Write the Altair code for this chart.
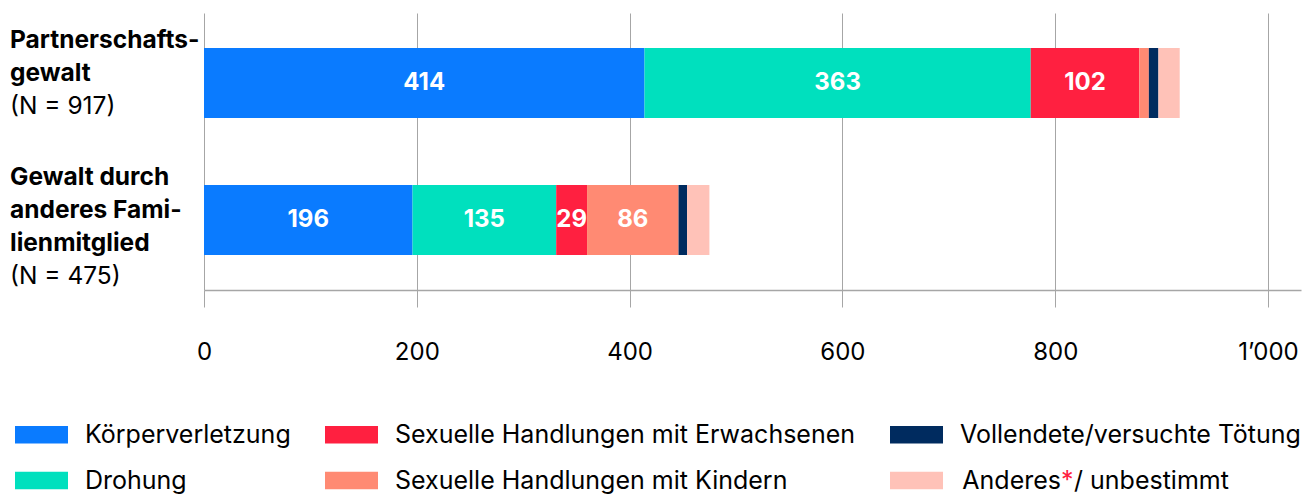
import altair as alt
import pandas as pd

categories = ["Partnerschaftsgewalt", "Gewalt durch anderes Familienmitglied"]
bold_labels = ["Partnerschafts-\ngewalt", "Gewalt durch\nanderes Fami-\nlienmitglied"]
n_labels = ["(N = 917)", "(N = 475)"]

types = [
    "Körperverletzung",
    "Drohung",
    "Sexuelle Handlungen mit Erwachsenen",
    "Sexuelle Handlungen mit Kindern",
    "Vollendete/versuchte Tötung",
    "Anderes*/ unbestimmt",
]
# the last legend label is drawn in three parts so that its asterisk can be red
other_parts = ["Anderes", "*", "/ unbestimmt"]
colors = ["#0A7BFF", "#00E0BE", "#FF2040", "#FF8A73", "#002B5F", "#FFC2B8"]
partner = [414, 363, 102, 9, 9, 20]
familie = [196, 135, 29, 86, 8, 21]
x_ticks = [0, 200, 400, 600, 800, 1000]
label_min = 25

FONT = "Inter"
LINE_H = 33
FIRST_DY = -35

rows = []
for cat, vals in zip(categories, [partner, familie]):
    for i, (t, v) in enumerate(zip(types, vals)):
        rows.append({"cat": cat, "type": t, "value": v, "idx": i})
df = pd.DataFrame(rows)

lab_df = pd.DataFrame({"cat": categories, "bold": bold_labels, "reg": n_labels})

y_enc = alt.Y(
    "cat:N",
    sort=categories,
    axis=None,
    scale=alt.Scale(paddingInner=0.489, paddingOuter=0.2555),
)

base = alt.Chart(df).transform_stack(
    stack="value", groupby=["cat"], as_=["start", "end"], sort=[alt.SortField("idx")]
)

LEG_Y = 395
ROW_PAD = 6
ROW2_CENTER = LEG_Y + 79.5 + ROW_PAD - 13  # relative to plot top

bars = base.mark_bar().encode(
    x=alt.X(
        "start:Q",
        scale=alt.Scale(domain=[0, 1031], nice=False),
        axis=alt.Axis(
            values=x_ticks,
            title=None,
            grid=True,
            gridColor="#a6a6a6",
            gridWidth=1,
            domainColor="#a6a6a6",
            domainWidth=1.5,
            tickColor="#a6a6a6",
            tickWidth=1,
            tickSize=17,
            labelPadding=33,
            labelFlush=False,
            labelFont=FONT,
            labelFontSize=24,
            labelColor="#000000",
            labelExpr="replace(format(datum.value, ','), ',', '’')",
        ),
    ),
    x2="end:Q",
    y=y_enc,
    color=alt.Color(
        "type:N",
        scale=alt.Scale(domain=types, range=colors),
        legend=alt.Legend(
            title=None,
            orient="none",
            legendX=-189,
            legendY=LEG_Y,
            columns=3,
            columnPadding=34,
            rowPadding=ROW_PAD,
            gridAlign="each",
            symbolType="M-1,-0.33H1V0.33H-1Z",
            symbolSize=2809,
            symbolStrokeWidth=0,
            symbolOpacity=1,
            labelOffset=17,
            labelFont=FONT,
            labelFontSize=25,
            labelColor="#000000",
            labelLimit=600,
            labelExpr=f"datum.label == '{types[5]}' ? '' : datum.label",
        ),
    ),
)

text = (
    base.transform_filter(f"datum.value >= {label_min}")
    .transform_calculate(mid="(datum.start + datum.end) / 2")
    .mark_text(color="white", font=FONT, fontSize=24, fontWeight="bold", baseline="middle")
    .encode(x="mid:Q", y=y_enc, text="value:Q")
)

ylab_bold = (
    alt.Chart(lab_df)
    .mark_text(
        align="left", baseline="alphabetic", font=FONT, fontSize=24.5, fontWeight="bold",
        lineBreak="\n", lineHeight=LINE_H, dy=FIRST_DY, color="#000000",
    )
    .encode(x=alt.value(-194), y=y_enc, text="bold:N")
)

n_layers = []
for cat, b in zip(categories, bold_labels):
    nb = b.count("\n") + 1
    n_layers.append(
        alt.Chart(lab_df)
        .transform_filter(alt.datum.cat == cat)
        .mark_text(
            align="left", baseline="alphabetic", font=FONT, fontSize=24.5,
            dy=FIRST_DY + LINE_H * nb, color="#000000",
        )
        .encode(x=alt.value(-194), y=y_enc, text="reg:N")
    )

STAR_X = 857
part_df = pd.DataFrame({"t": other_parts})
other_layers = [
    alt.Chart(part_df).transform_filter(alt.datum.t == other_parts[0])
    .mark_text(align="right", baseline="middle", font=FONT, fontSize=25, color="#000000")
    .encode(x=alt.value(STAR_X), y=alt.value(ROW2_CENTER), text="t:N"),
    alt.Chart(part_df).transform_filter(alt.datum.t == other_parts[1])
    .mark_text(align="left", baseline="middle", font=FONT, fontSize=25, color="#FF2040")
    .encode(x=alt.value(STAR_X), y=alt.value(ROW2_CENTER), text="t:N"),
    alt.Chart(part_df).transform_filter(alt.datum.t == other_parts[2])
    .mark_text(align="left", baseline="middle", font=FONT, fontSize=25, color="#000000")
    .encode(x=alt.value(STAR_X + 13), y=alt.value(ROW2_CENTER), text="t:N"),
]

chart = (
    alt.layer(bars, text, ylab_bold, *n_layers, *other_layers)
    .properties(
        width=1097,
        height=277,
        padding={"left": 196, "top": 5, "right": 5, "bottom": 206},
        autosize=alt.AutoSizeParams(type="none"),
    )
    .configure_view(stroke=None)
)

chart.save("out.html", embed_options={"renderer": "svg", "actions": False})
